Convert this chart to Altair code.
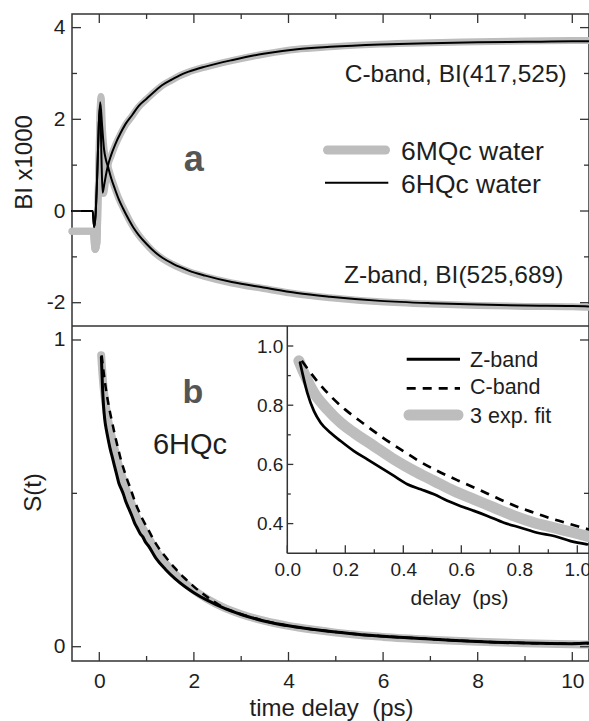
import altair as alt
import pandas as pd

FONT = "Liberation Sans"
GRAY = "#bdbdbd"
INK = "#1e1e1e"
FRAME = "#333333"

W, H = 517, 647

# ---------------- panel a : BI x1000 vs time delay ----------------
hq_c_t = [-0.577, -0.14, -0.11, -0.08, -0.04, -0.01, 0.02, 0.045, 0.07, 0.10, 0.14, 0.18, 0.25, 0.34,
          0.45, 0.55, 0.70, 0.83, 1.00, 1.18, 1.35, 1.54, 1.70, 1.89, 2.24, 2.80, 3.47, 4.18, 4.88,
          5.94, 7.00, 8.00, 9.00, 10.00, 10.35]
hq_c_v = [0.00, 0.00, -0.35, -0.10, 0.90, 1.90, 2.30, 1.20, 0.40, 0.55, 0.78, 0.98, 1.22, 1.46,
          1.70, 1.89, 2.10, 2.29, 2.45, 2.62, 2.76, 2.87, 2.96, 3.04, 3.15, 3.29, 3.43, 3.53, 3.58,
          3.63, 3.66, 3.68, 3.69, 3.70, 3.70]
hq_z_t = [-0.577, -0.14, -0.11, -0.08, -0.04, -0.01, 0.02, 0.06, 0.10, 0.14, 0.18, 0.25, 0.33, 0.41,
          0.50, 0.62, 0.72, 0.83, 1.00, 1.18, 1.35, 1.54, 1.70, 1.89, 2.24, 2.80, 3.47, 4.18, 4.88,
          5.94, 7.00, 8.00, 9.00, 10.00, 10.35]
hq_z_v = [0.00, 0.00, -0.35, -0.10, 0.90, 1.90, 2.37, 1.85, 1.35, 1.12, 0.98, 0.72, 0.48, 0.26,
          0.06, -0.18, -0.36, -0.52, -0.72, -0.90, -1.03, -1.14, -1.22, -1.30, -1.41, -1.55, -1.67,
          -1.79, -1.87, -1.96, -2.01, -2.04, -2.06, -2.07, -2.08]

mq_c_t = [-0.577, -0.13, -0.09, -0.05, -0.02, 0.01, 0.035, 0.06, 0.09, 0.13, 0.18, 0.25, 0.34, 0.45,
          0.55, 0.70, 0.83, 1.00, 1.18, 1.35, 1.54, 1.70, 1.89, 2.24, 2.80, 3.47, 4.18, 4.88, 5.94,
          7.00, 8.00, 9.00, 10.00, 10.35]
mq_c_v = [-0.44, -0.44, -0.84, -0.70, 0.50, 1.90, 2.45, 1.30, 0.38, 0.62, 0.98, 1.20, 1.44, 1.68,
          1.87, 2.08, 2.27, 2.44, 2.61, 2.75, 2.86, 2.95, 3.03, 3.14, 3.28, 3.42, 3.53, 3.58, 3.64,
          3.67, 3.69, 3.71, 3.72, 3.72]
mq_z_t = [-0.577, -0.13, -0.09, -0.05, -0.02, 0.01, 0.035, 0.07, 0.11, 0.14, 0.18, 0.25, 0.33, 0.41,
          0.50, 0.62, 0.72, 0.83, 1.00, 1.18, 1.35, 1.54, 1.70, 1.89, 2.24, 2.80, 3.47, 4.18, 4.88,
          5.94, 7.00, 8.00, 9.00, 10.00, 10.35]
mq_z_v = [-0.44, -0.44, -0.84, -0.70, 0.50, 1.90, 2.50, 1.75, 1.28, 1.12, 0.98, 0.74, 0.50, 0.28,
          0.08, -0.17, -0.35, -0.52, -0.73, -0.92, -1.05, -1.16, -1.24, -1.32, -1.43, -1.57, -1.69,
          -1.81, -1.89, -1.98, -2.03, -2.06, -2.08, -2.09, -2.10]

# ---------------- panel b : S(t) ----------------
z_t = [0.044, 0.069, 0.092, 0.115, 0.149, 0.184, 0.23, 0.276, 0.322, 0.368, 0.414, 0.46, 0.506,
       0.552, 0.598, 0.644, 0.69, 0.747, 0.805, 0.862, 0.92, 0.977, 1.034, 1.2, 1.4, 1.6, 1.8, 2.0,
       2.3, 2.6, 3.0, 3.5, 4.0, 4.5, 5.0, 5.5, 6.0, 7.0, 8.0, 9.0, 10.0, 10.35]
z_s = [0.944, 0.842, 0.780, 0.741, 0.707, 0.679, 0.645, 0.617, 0.589, 0.561, 0.533, 0.516, 0.499,
       0.477, 0.459, 0.443, 0.426, 0.403, 0.386, 0.369, 0.358, 0.341, 0.330, 0.288, 0.252, 0.222,
       0.197, 0.176, 0.150, 0.128, 0.105, 0.083, 0.068, 0.057, 0.048, 0.040, 0.034, 0.025, 0.017,
       0.012, 0.010, 0.012]
c_t = [0.05, 0.10, 0.15, 0.20, 0.26, 0.33, 0.40, 0.46, 0.52, 0.59, 0.66, 0.72, 0.78, 0.85, 0.91,
       0.98, 1.04, 1.2, 1.4, 1.6, 1.8, 2.0, 2.3, 2.6, 3.0, 3.5, 4.0, 4.5, 5.0, 5.5, 6.0, 7.0, 8.0,
       9.0, 10.0, 10.35]
c_s = [0.950, 0.885, 0.830, 0.785, 0.740, 0.690, 0.645, 0.608, 0.577, 0.545, 0.515, 0.488, 0.462,
       0.437, 0.417, 0.397, 0.380, 0.335, 0.293, 0.256, 0.224, 0.196, 0.160, 0.130, 0.106, 0.084,
       0.068, 0.057, 0.048, 0.040, 0.034, 0.025, 0.017, 0.012, 0.010, 0.011]
f_t = [0.04, 0.057, 0.092, 0.138, 0.184, 0.23, 0.299, 0.368, 0.437, 0.506, 0.575, 0.644, 0.713,
       0.782, 0.851, 0.92, 0.989, 1.04, 1.2, 1.4, 1.6, 1.8, 2.0, 2.3, 2.6, 3.0, 3.5, 4.0, 4.5, 5.0,
       5.5, 6.0, 7.0, 8.0, 9.0, 10.0, 10.35]
f_s = [0.950, 0.910, 0.842, 0.786, 0.741, 0.707, 0.662, 0.617, 0.578, 0.544, 0.510, 0.482, 0.454,
       0.426, 0.403, 0.386, 0.369, 0.356, 0.312, 0.272, 0.238, 0.209, 0.184, 0.154, 0.130, 0.106,
       0.084, 0.068, 0.056, 0.046, 0.038, 0.032, 0.023, 0.016, 0.011, 0.008, 0.007]

# tick values
x_major = [0, 2, 4, 6, 8, 10]
x_minor = [1, 3, 5, 7, 9]
ya_major = [-2, 0, 2, 4]
ya_minor = [-1, 1, 3]
yb_major = [0, 1]
yb_minor = [0.5]
xi_major = [0.0, 0.2, 0.4, 0.6, 0.8, 1.0]
xi_minor = [0.1, 0.3, 0.5, 0.7, 0.9]
yi_major = [0.4, 0.6, 0.8, 1.0]
yi_minor = [0.5, 0.7, 0.9]

# ---------------- scales (each panel its own pixel range) ----------------
def sc(domain, rng):
    return alt.Scale(domain=domain, range=rng, nice=False, zero=False)

XS = sc([-0.577, 10.353], [0, W])
YA = sc([-2.508, 4.297], [312, 0])
YB = sc([-0.0466, 1.0456], [H, 312])
XI = sc([0.0, 1.0403], [215.3, W])
YI = sc([0.2997, 1.0676], [539.3, 312])


def frame(series):
    rows = []
    for name, (ts, vs) in series.items():
        for t, v in zip(ts, vs):
            rows.append({"t": t, "v": v, "s": name})
    return pd.DataFrame(rows)


df_mq = frame({"C": (mq_c_t, mq_c_v), "Z": (mq_z_t, mq_z_v)})
df_hq = frame({"C": (hq_c_t, hq_c_v), "Z": (hq_z_t, hq_z_v)})
df_z = frame({"Z-band": (z_t, z_s)})
df_c = frame({"C-band": (c_t, c_s)})
df_f = frame({"fit": (f_t, f_s)})
df_zi = df_z[df_z.t <= 1.041]
df_ci = df_c[df_c.t <= 1.041]
df_fi = df_f[df_f.t <= 1.041]

lab = dict(labelFont=FONT, labelColor=INK, ticks=False, tickSize=0, domain=False, grid=False,
           labelFlush=False, titleFont=FONT, titleColor=INK, titleFontWeight="normal")
PLAIN = "'' + datum.value"


def line(df, xs, ys, color, width, dash=None, xaxis=None, yaxis=None):
    kw = dict(color=color, strokeWidth=width, interpolate="monotone", strokeCap="round",
              strokeJoin="round")
    if dash:
        kw["strokeDash"] = dash
        kw["strokeCap"] = "butt"
    return alt.Chart(df).mark_line(**kw).encode(
        x=alt.X("t:Q", scale=xs, axis=xaxis),
        y=alt.Y("v:Q", scale=ys, axis=yaxis),
        detail="s:N",
    )


def xticks(vals, xs, y0, y1):
    return alt.Chart(pd.DataFrame({"p": vals})).mark_rule(color=FRAME, strokeWidth=1.3).encode(
        x=alt.X("p:Q", scale=xs, axis=None), y=alt.value(y0), y2=alt.value(y1))


def yticks(vals, ys, x0, x1):
    return alt.Chart(pd.DataFrame({"p": vals})).mark_rule(color=FRAME, strokeWidth=1.3).encode(
        y=alt.Y("p:Q", scale=ys, axis=None), x=alt.value(x0), x2=alt.value(x1))


one = pd.DataFrame({"k": [0]})


def seg(x, y, x2=None, y2=None, color=FRAME, width=1.5, dash=None, cap="butt"):
    kw = dict(color=color, strokeWidth=width, strokeCap=cap)
    if dash:
        kw["strokeDash"] = dash
    enc = dict(x=alt.value(x), y=alt.value(y))
    if x2 is not None:
        enc["x2"] = alt.value(x2)
    if y2 is not None:
        enc["y2"] = alt.value(y2)
    return alt.Chart(one).mark_rule(**kw).encode(**enc)


def txt(s, x, y, size, align="left", weight="normal", color=INK, baseline="alphabetic"):
    return alt.Chart(one).mark_text(text=s, font=FONT, fontSize=size, fontWeight=weight,
                                    color=color, align=align, baseline=baseline).encode(
        x=alt.value(x), y=alt.value(y))


# panel a
a_gray = line(df_mq, XS, YA, GRAY, 7,
              yaxis=alt.Axis(orient="left", values=ya_major, labelExpr=PLAIN, labelFontSize=21,
                             labelPadding=7, title="BI x1000", titleFontSize=24, titleX=-48,
                             titleY=148, titleAngle=270, titleAlign="center",
                             titleBaseline="middle", **lab))
a_black = line(df_hq, XS, YA, "black", 2)

# panel b
b_gray = line(df_f, XS, YB, GRAY, 8,
              xaxis=alt.Axis(orient="bottom", values=x_major, labelExpr=PLAIN, labelFontSize=21,
                             labelPadding=9, title="time delay\u00a0 (ps)", titleFontSize=24,
                             titleX=259, titleY=54, titleAlign="center",
                             titleBaseline="alphabetic", **lab),
              yaxis=alt.Axis(orient="left", values=yb_major, labelExpr=PLAIN, labelFontSize=21,
                             labelPadding=7, title="S(t)", titleFontSize=24, titleX=-39,
                             titleY=478, titleAngle=270, titleAlign="center",
                             titleBaseline="middle", **lab))
b_black = line(df_z, XS, YB, "black", 3)
b_dash = line(df_c, XS, YB, "black", 2.5, dash=[8, 6])

# inset
i_gray = line(df_fi, XI, YI, GRAY, 11,
              xaxis=alt.Axis(orient="bottom", offset=-107.7, values=xi_major, format=".1f",
                             labelFontSize=19, labelPadding=7, title="delay\u00a0 (ps)",
                             titleFontSize=21, titleX=387, titleY=51, titleAlign="center",
                             titleBaseline="alphabetic", **lab),
              yaxis=alt.Axis(orient="left", offset=-215.3, values=yi_major, format=".1f",
                             labelFontSize=19, labelPadding=4.5, title=None, **lab))
i_black = line(df_zi, XI, YI, "black", 2.7)
i_dash = line(df_ci, XI, YI, "black", 2.7, dash=[9, 7])

ticks = [
    xticks(x_major, XS, 0, 9), xticks(x_minor, XS, 0, 5),
    xticks(x_major, XS, H, H - 9), xticks(x_minor, XS, H, H - 5),
    yticks(ya_major, YA, 0, 9), yticks(ya_minor, YA, 0, 5),
    yticks(ya_major, YA, W, W - 9), yticks(ya_minor, YA, W, W - 5),
    yticks(yb_major, YB, 0, 9), yticks(yb_minor, YB, 0, 5),
    yticks(yb_major, YB, W, W - 9), yticks(yb_minor, YB, W, W - 5),
    xticks(xi_major, XI, 539.3, 531.3), xticks(xi_minor, XI, 539.3, 535.3),
    yticks(yi_major, YI, 215.3, 221.3), yticks(yi_minor, YI, 215.3, 218.8),
]

frames = [
    seg(0, 312, x2=W),
    seg(215.3, 312, y2=539.3),
    seg(215.3, 539.3, x2=W),
]

notes = [
    txt("a", 121.7, 157, 36, align="center", weight="bold", color="#555555"),
    txt("C-band, BI(417,525)", 494.7, 67.7, 24.5, align="right"),
    txt("Z-band, BI(525,689)", 491.3, 269.3, 24.5, align="right"),
    seg(255.5, 136, x2=313.5, color=GRAY, width=9, cap="round"),
    seg(253, 168.7, x2=316.3, color="black", width=2),
    txt("6MQc water", 329, 146, 26.5),
    txt("6HQc water", 329, 179.3, 26.5),
    txt("b", 120.8, 389.3, 34, align="center", weight="bold", color="#555555"),
    txt("6HQc", 118, 440, 29, align="center"),
    seg(334.7, 345.3, x2=388, color="black", width=3),
    seg(334.7, 374.3, x2=388, color="black", width=2.7, dash=[9, 7]),
    seg(337, 401, x2=386, color=GRAY, width=11, cap="round"),
    txt("Z-band", 398, 352.7, 21.5),
    txt("C-band", 398, 380, 21.5),
    txt("3 exp. fit", 398, 408.7, 21.5),
]

chart = alt.layer(
    a_gray, a_black, b_gray, b_black, b_dash, i_gray, i_black, i_dash,
    *ticks, *frames, *notes,
).resolve_scale(x="independent", y="independent").resolve_axis(
    x="independent", y="independent"
).properties(
    width=W, height=H,
    autosize=alt.AutoSizeParams(type="none"),
    padding={"left": 72, "top": 14, "right": 0, "bottom": 60},
    background="white",
).configure_view(stroke=FRAME, strokeWidth=1.5)

chart.save("out.html", embed_options={"renderer": "svg", "actions": False})
